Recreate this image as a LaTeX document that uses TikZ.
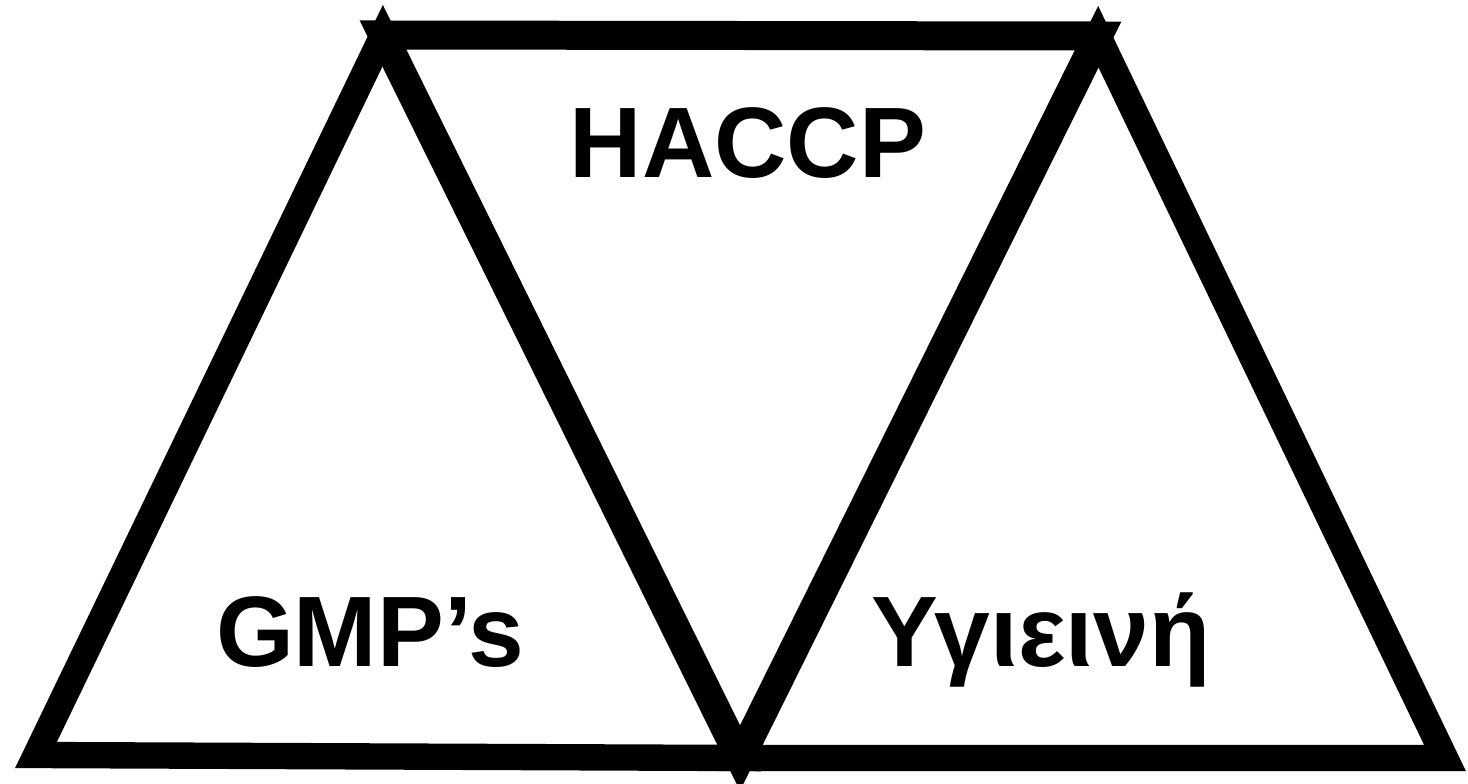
\documentclass[tikz,border=0pt]{standalone}
\usepackage{fontspec}
\setmainfont{Liberation Sans}
\usepackage{tikz}

\begin{document}
\begin{tikzpicture}[x=0.02cm,y=-0.02cm,
  outer/.style={draw,line width=15pt,line join=miter},
  inner/.style={draw,line width=16.5pt,line join=miter},
  label/.style={anchor=base,inner sep=0pt,font=\fontsize{57}{60}\selectfont\bfseries}]
\useasboundingbox (0,0) rectangle (1468,784);
\coordinate (gtop) at (383,35);
\coordinate (gleft) at (36,755);
\coordinate (mid) at (740,758);
\coordinate (htop) at (1098,36);
\coordinate (yright) at (1445,758);
\draw[outer] (gtop) -- (gleft) -- (mid) -- cycle;
\draw[outer] (htop) -- (mid) -- (yright) -- cycle;
\draw[inner] (gtop) -- (htop) -- (mid) -- cycle;
\node[label] (haccp) at (748,177) {HACCP};
\node[label] (gmp) at (370,666) {GMP’s};
\node[label] (hyg) at (1041,666) {Υγιεινή};
\end{tikzpicture}
\end{document}
